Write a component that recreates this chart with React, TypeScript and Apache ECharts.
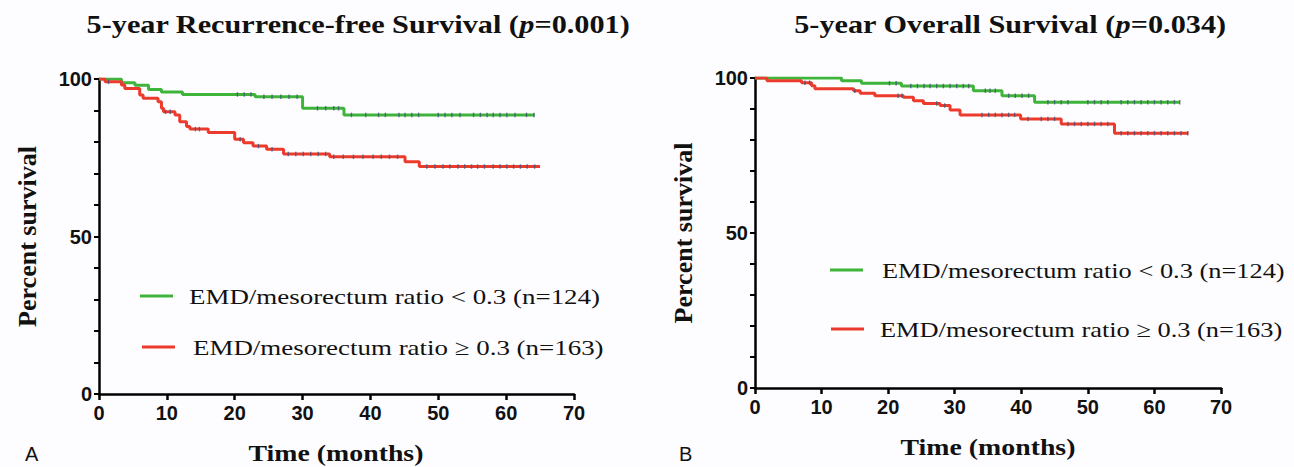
import React, { useEffect, useRef } from "react";
import * as echarts from "echarts";

// ---------- Data ----------
const seriesNames = [
  "EMD/mesorectum ratio < 0.3 (n=124)",
  "EMD/mesorectum ratio \u2265 0.3 (n=163)",
];

// A: Recurrence-free survival — step points (time of drop, new survival %)
const rfsLowTimes = [0, 3.3, 5.3, 7.3, 9.2, 12.3, 23.0, 30.0, 36.1, 64.2];
const rfsLowVals = [100, 98.8, 98.0, 96.7, 95.9, 95.1, 94.4, 90.7, 88.6, 88.6];
const rfsHighTimes = [0, 0.9, 3.3, 3.8, 6.0, 6.5, 8.7, 9.2, 9.5, 11.2, 11.9, 12.9, 13.4, 16.1, 20.0, 21.3, 22.7, 24.7, 27.2, 34.0, 45.1, 47.2, 65.0];
const rfsHighVals = [100, 99.1, 98.1, 97.0, 94.9, 93.9, 92.8, 90.7, 89.6, 88.6, 86.4, 84.9, 84.1, 83.0, 80.9, 79.8, 78.7, 77.7, 76.2, 75.3, 73.7, 72.2, 72.2];

// B: Overall survival
const osLowTimes = [0, 13.0, 16.0, 22.0, 32.8, 37.1, 42.0, 63.8];
const osLowVals = [100, 99.1, 98.3, 97.4, 95.9, 94.3, 92.2, 92.2];
const osHighTimes = [0, 1.8, 7.0, 8.5, 9.0, 14.8, 15.8, 18.0, 22.3, 23.8, 25.3, 27.8, 29.3, 30.8, 39.9, 46.0, 54.0, 65.1];
const osHighVals = [100, 99.1, 98.5, 97.5, 96.5, 95.9, 95.1, 94.3, 93.8, 92.7, 91.8, 91.1, 89.7, 88.1, 86.8, 85.2, 82.2, 82.2];

// Censored observation times
const rfsLowCensor = [20.4, 21.4, 22.4, 24.3, 25.5, 26.8, 28.0, 29.2, 32.2, 33.4, 34.6, 35.3, 37.2, 39.3, 41.2, 42.2, 44.2, 45.1, 46.1, 47.1, 50.0, 51.0, 52.0, 53.2, 55.2, 56.2, 57.2, 58.1, 59.1, 60.1, 61.3, 63.0, 64.1];
const rfsHighCensor = [1.4, 9.8, 10.5, 14.2, 14.8, 20.8, 23.5, 25.5, 27.9, 29.0, 30.1, 31.2, 32.3, 33.4, 34.6, 36.0, 37.5, 38.9, 40.4, 41.6, 42.8, 44.0, 48.3, 49.5, 50.7, 51.7, 52.9, 53.9, 54.9, 55.8, 56.8, 58.1, 59.1, 60.1, 61.1, 62.1, 63.1, 64.2];
const osLowCensor = [20.2, 21.2, 23.4, 24.4, 25.4, 26.3, 27.3, 28.3, 29.3, 30.3, 31.3, 32.1, 34.6, 35.3, 36.1, 38.1, 39.1, 40.1, 41.1, 44.0, 45.0, 46.0, 47.0, 50, 51, 52, 53, 55, 56, 57, 58, 59, 60, 61, 62, 63, 63.8];
const osHighCensor = [7.5, 8.2, 15.0, 21.5, 22.1, 27.3, 28.5, 34.1, 35.1, 36.1, 37.1, 38.1, 39.0, 41, 43, 44, 45, 47, 48, 49, 50, 51, 52, 53, 55, 56, 57, 58, 59, 60, 61, 62, 63, 64, 65];

const xTicks = { min: 0, max: 70, interval: 10 };
const yTicks = { min: 0, max: 100, interval: 10, labelEvery: 50 };

const panelTitles = [
  "5-year Recurrence-free Survival ({p|p}=0.001)",
  "5-year Overall Survival ({p|p}=0.034)",
];
const panelLetters = ["A", "B"];
const xAxisName = "Time (months)";
const yAxisName = "Percent survival";

// ---------- helpers ----------
const GREEN = "#3fb43a";
const RED = "#ec3a2c";
const CENSOR = "#44557a";
const SERIF = "'Liberation Serif', 'Times New Roman', serif";
const SANS = "'Liberation Sans', Arial, sans-serif";
const STRETCH = 1.21;

function pairs(ts: number[], vs: number[]) {
  return ts.map((t, i) => [t, vs[i]]);
}
function survivalAt(ts: number[], vs: number[], t: number) {
  let v = vs[0];
  for (let i = 0; i < ts.length; i++) {
    if (ts[i] <= t) v = vs[i];
  }
  return v;
}
function censorPts(ts: number[], vs: number[], cs: number[]) {
  return cs.map((c) => [c, survivalAt(ts, vs, c)]);
}

function stepSeries(name: string, color: string, idx: number, data: number[][]) {
  return {
    type: "line",
    name,
    step: "end",
    xAxisIndex: idx,
    yAxisIndex: idx,
    data,
    showSymbol: false,
    symbol: "none",
    lineStyle: { color, width: 3 },
    itemStyle: { color },
    z: 3,
  };
}
function censorSeries(name: string, idx: number, data: number[][]) {
  return {
    type: "scatter",
    name,
    xAxisIndex: idx,
    yAxisIndex: idx,
    data,
    symbol: "rect",
    symbolSize: [1.4, 4.5],
    itemStyle: { color: CENSOR },
    z: 4,
    silent: true,
  };
}

function xAxisCfg(gridIndex: number) {
  return {
    type: "value",
    gridIndex,
    min: xTicks.min,
    max: xTicks.max,
    interval: xTicks.interval,
    axisLine: { show: true, lineStyle: { color: "#000", width: 2.5 } },
    axisTick: { show: true, length: 6, lineStyle: { color: "#000", width: 2.5 } },
    axisLabel: { fontFamily: SANS, fontWeight: "bold", fontSize: 20, color: "#111", margin: 9 },
    splitLine: { show: false },
  };
}
function yAxisCfg(gridIndex: number) {
  return {
    type: "value",
    gridIndex,
    min: yTicks.min,
    max: yTicks.max,
    interval: yTicks.interval,
    name: yAxisName,
    nameLocation: "middle",
    nameGap: 59,
    nameTextStyle: { fontFamily: SERIF, fontWeight: "bold", fontSize: 26, color: "#111" },
    axisLine: { show: true, lineStyle: { color: "#000", width: 2.5 } },
    axisTick: { show: true, length: 5, lineStyle: { color: "#000", width: 2 } },
    axisLabel: {
      fontFamily: SANS,
      fontWeight: "bold",
      fontSize: 20,
      color: "#111",
      margin: 7,
      formatter: (v: number) => (v % yTicks.labelEvery === 0 ? String(v) : ""),
    },
    splitLine: { show: false },
  };
}
function stretchedText(x: number, y: number, text: string, size: number, bold: boolean, align = "center", stretch = STRETCH) {
  return {
    type: "text",
    x,
    y,
    scaleX: stretch,
    style: {
      text,
      align,
      verticalAlign: "middle",
      fontFamily: SERIF,
      fontWeight: bold ? "bold" : "normal",
      fontSize: size,
      fill: "#111",
      rich: {
        p: { fontFamily: SERIF, fontWeight: "bold", fontStyle: "italic", fontSize: size, fill: "#111" },
      },
    },
  };
}
function legendItem(x: number, y: number, textX: number, color: string, label: string, stretch: number) {
  return [
    {
      type: "line",
      shape: { x1: x, y1: y, x2: x + 33, y2: y },
      style: { stroke: color, lineWidth: 3 },
    },
    stretchedText(textX, y, label, 22, false, "left", stretch),
  ];
}

export default function App() {
  const ref = useRef<HTMLDivElement>(null);
  useEffect(() => {
    if (!ref.current) return;
    const chart = echarts.init(ref.current, null, { renderer: "svg" });
    chart.setOption({
      animation: false,
      backgroundColor: "#fdfdff",
      grid: [
        { left: 99, top: 79, width: 475, height: 315 },
        { left: 755, top: 78, width: 466, height: 310 },
      ],
      xAxis: [xAxisCfg(0), xAxisCfg(1)],
      yAxis: [yAxisCfg(0), yAxisCfg(1)],
      graphic: [
        stretchedText(358, 24, panelTitles[0], 25, true),
        stretchedText(1010, 24, panelTitles[1], 25, true),
        stretchedText(336, 453, xAxisName, 23, true),
        stretchedText(988, 447, xAxisName, 23, true),
        ...legendItem(140, 296, 189, GREEN, seriesNames[0], 1.225),
        ...legendItem(142, 347, 193, RED, seriesNames[1], 1.225),
        ...legendItem(830, 270, 882, GREEN, seriesNames[0], 1.2),
        ...legendItem(831, 329, 880, RED, seriesNames[1], 1.2),
        { type: "text", x: 25, y: 444, style: { text: panelLetters[0], fontFamily: SANS, fontSize: 20, fill: "#111" } },
        { type: "text", x: 679, y: 444, style: { text: panelLetters[1], fontFamily: SANS, fontSize: 20, fill: "#111" } },
      ],
      series: [
        stepSeries(seriesNames[0], GREEN, 0, pairs(rfsLowTimes, rfsLowVals)),
        stepSeries(seriesNames[1], RED, 0, pairs(rfsHighTimes, rfsHighVals)),
        censorSeries(seriesNames[0], 0, censorPts(rfsLowTimes, rfsLowVals, rfsLowCensor)),
        censorSeries(seriesNames[1], 0, censorPts(rfsHighTimes, rfsHighVals, rfsHighCensor)),
        stepSeries(seriesNames[0], GREEN, 1, pairs(osLowTimes, osLowVals)),
        stepSeries(seriesNames[1], RED, 1, pairs(osHighTimes, osHighVals)),
        censorSeries(seriesNames[0], 1, censorPts(osLowTimes, osLowVals, osLowCensor)),
        censorSeries(seriesNames[1], 1, censorPts(osHighTimes, osHighVals, osHighCensor)),
      ],
    });
    return () => chart.dispose();
  }, []);
  return (
    <div
      ref={ref}
      style={{ position: "absolute", left: 0, top: 0, width: 1294, height: 467 }}
    />
  );
}
